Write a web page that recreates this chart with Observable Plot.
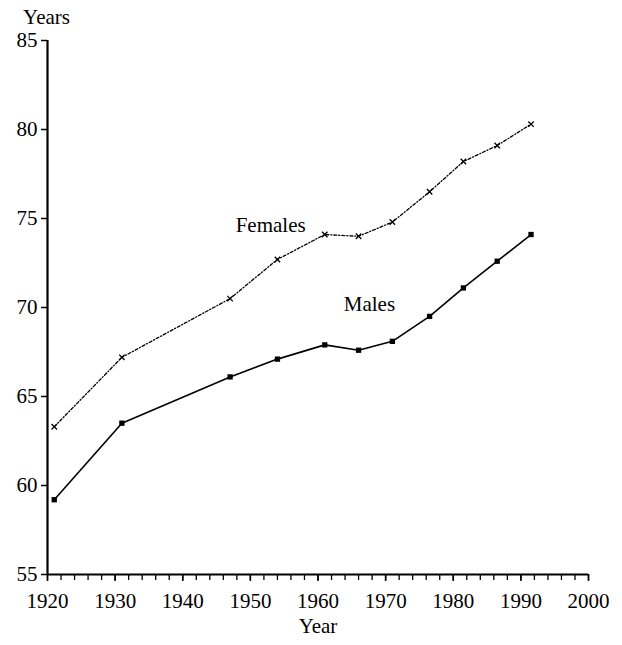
<!DOCTYPE html>
<html>
<head>
<meta charset="utf-8">
<script src="https://cdn.jsdelivr.net/npm/d3@7"></script>
<script src="https://cdn.jsdelivr.net/npm/@observablehq/plot@0.6"></script>
<style>
  html, body { margin: 0; padding: 0; background: #fff; }
  svg { display: block; }
</style>
</head>
<body>
<div id="chart"></div>
<script>
const years = [1921, 1931, 1947, 1954, 1961, 1966, 1971, 1976.5, 1981.5, 1986.5, 1991.5];
const males = [59.2, 63.5, 66.1, 67.1, 67.9, 67.6, 68.1, 69.5, 71.1, 72.6, 74.1];
const females = [63.3, 67.2, 70.5, 72.7, 74.1, 74.0, 74.8, 76.5, 78.2, 79.1, 80.3];
const yTicks = [55, 60, 65, 70, 75, 80, 85];
const xTicks = [1920, 1930, 1940, 1950, 1960, 1970, 1980, 1990, 2000];
const xMinorTicks = d3.range(1920, 2001, 2);
const seriesLabels = ["Females", "Males"];
const labelX = [1953, 1967.6];
const labelY = [74.6, 70.2];

const maleData = years.map((x, i) => ({x, y: males[i]}));
const femaleData = years.map((x, i) => ({x, y: females[i]}));
const labelData = seriesLabels.map((t, i) => ({t, x: labelX[i], y: labelY[i]}));

const font = "'Liberation Serif', 'DejaVu Serif', serif";

const chart = Plot.plot({
  width: 622,
  height: 645,
  marginLeft: 47,
  marginRight: 34,
  marginTop: 40,
  marginBottom: 71,
  style: {fontFamily: font, fontSize: "21px", color: "#000", background: "#fff"},
  x: {domain: [1920, 2000]},
  y: {domain: [55, 85]},
  marks: [
    Plot.axisY({ticks: yTicks, tickSize: 6, tickPadding: 4, tickFormat: d => d, label: null, fontSize: 21, strokeWidth: 1.5}),
    Plot.axisX({ticks: xMinorTicks, tickSize: 6, tickFormat: () => "", label: null, strokeWidth: 1.3}),
    Plot.axisX({ticks: xTicks, tickSize: 7, tickPadding: 12, tickFormat: d => String(d), label: null, fontSize: 21, strokeWidth: 1.6}),
    Plot.ruleX([1920], {strokeWidth: 2.2}),
    Plot.ruleY([55], {strokeWidth: 1.8}),
    Plot.line(femaleData, {x: "x", y: "y", stroke: "#000", strokeWidth: 1.3, strokeDasharray: "3,2,1,2"}),
    Plot.dot(femaleData, {x: "x", y: "y", symbol: "times", r: 2.6, stroke: "#000", strokeWidth: 1.3}),
    Plot.line(maleData, {x: "x", y: "y", stroke: "#000", strokeWidth: 1.6}),
    Plot.dot(maleData, {x: "x", y: "y", symbol: "square", r: 3, fill: "#000", stroke: "none"}),
    Plot.text(labelData, {x: "x", y: "y", text: "t", fontSize: 21, fill: "#000"}),
    Plot.text(["Years"], {frameAnchor: "top-left", text: d => d, dx: -1, dy: -31, textAnchor: "middle", fontSize: 21, fill: "#000"}),
    Plot.text(["Year"], {frameAnchor: "bottom", text: d => d, dy: 58, fontSize: 21, fill: "#000"})
  ]
});
document.getElementById("chart").appendChild(chart);
</script>
</body>
</html>
